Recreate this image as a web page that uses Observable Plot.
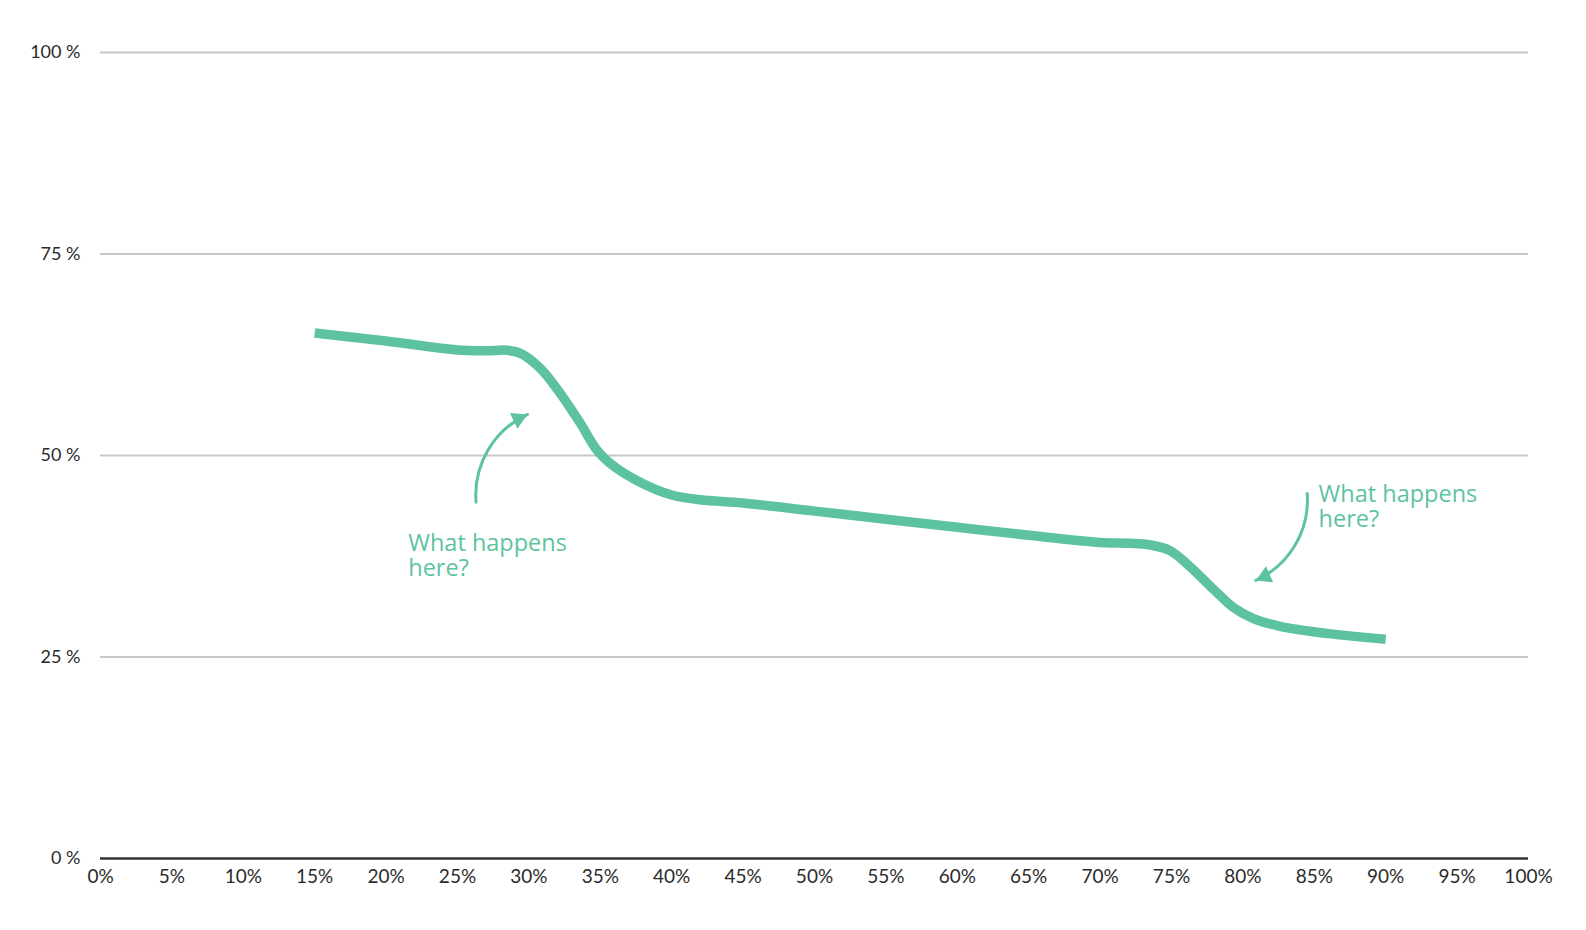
<!DOCTYPE html>
<html>
<head>
<meta charset="utf-8">
<script src="https://cdn.jsdelivr.net/npm/d3@7"></script>
<script src="https://cdn.jsdelivr.net/npm/@observablehq/plot@0.6"></script>
<style>
  html, body { margin: 0; padding: 0; background: #fff; }
  svg { display: block; }
</style>
</head>
<body>
<div id="chart"></div>
<script>
// Data
const shareX = [15, 20, 25, 27, 28.5, 29.5, 30.8, 32.2, 33.6, 34.8, 36, 38, 40, 42, 45, 50, 55, 60, 65, 70, 72, 73.5, 74.9, 76.3, 78, 79.3, 80.7, 82.6, 86, 90];
const shareY = [65.2, 64.2, 63.1, 63.0, 63.05, 62.6, 60.8, 57.7, 54.0, 50.6, 48.6, 46.5, 45.1, 44.5, 44.1, 43.1, 42.1, 41.1, 40.1, 39.2, 39.1, 38.9, 38.2, 36.2, 33.3, 31.2, 29.8, 28.8, 27.9, 27.2];
const xTicks = [0, 5, 10, 15, 20, 25, 30, 35, 40, 45, 50, 55, 60, 65, 70, 75, 80, 85, 90, 95, 100];
const yTicks = [0, 25, 50, 75, 100];
const annotationLabels = ["What happens\nhere?", "What happens\nhere?"];
const annotationX = [21.55, 85.3];
const annotationY = [37.6, 43.65];
const arrowX1 = [26.3, 84.5];
const arrowY1 = [44.2, 45.3];
const arrowX2 = [29.9, 80.9];
const arrowY2 = [55.1, 34.5];

const green = "#5dc39f";
const lineData = shareX.map((x, i) => ({x, y: shareY[i]}));
const notes = annotationLabels.map((t, i) => ({t, x: annotationX[i], y: annotationY[i]}));
const arrows = arrowX1.map((x1, i) => ({x1, y1: arrowY1[i], x2: arrowX2[i], y2: arrowY2[i]}));

const chart = Plot.plot({
  width: 1586,
  height: 930,
  marginLeft: 100,
  marginRight: 58,
  marginTop: 52,
  marginBottom: 72,
  style: {fontFamily: "Lato, sans-serif", fontSize: "18px", color: "#2b2b2b", background: "#fff"},
  x: {domain: [0, 100], label: null},
  y: {domain: [0, 100], label: null},
  marks: [
    Plot.ruleY(yTicks.filter(d => d > 0), {stroke: "#c8c8c8", strokeWidth: 2}),
    Plot.ruleY([0], {stroke: "#333", strokeWidth: 2.5}),
    Plot.axisX({ticks: xTicks, tickFormat: d => d + "%", tickSize: 0, tickPadding: 11, fontSize: 19, label: null}),
    Plot.axisY({ticks: yTicks, tickFormat: d => d + " %", tickSize: 0, tickPadding: 20, fontSize: 18, label: null}),
    Plot.line(lineData, {x: "x", y: "y", stroke: green, strokeWidth: 9.5, curve: "catmull-rom", strokeLinecap: "butt"}),
    Plot.arrow(arrows, {x1: "x1", y1: "y1", x2: "x2", y2: "y2", stroke: green, strokeWidth: 3, bend: 35, headLength: 0}),
    Plot.dot([arrows[0]], {x: "x2", y: "y2", symbol: "triangle", r: 6.5, fill: green, stroke: "none", rotate: 65, dx: -9.2, dy: 4.3}),
    Plot.dot([arrows[1]], {x: "x2", y: "y2", symbol: "triangle", r: 6.5, fill: green, stroke: "none", rotate: 246, dx: 9.2, dy: -4.1}),
    Plot.text(notes, {x: "x", y: "y", text: "t", fill: green, fontFamily: "'Open Sans', sans-serif", fontSize: 23.5, textAnchor: "start", lineAnchor: "middle", lineHeight: 1.07})
  ]
});
document.getElementById("chart").appendChild(chart);
</script>
</body>
</html>
